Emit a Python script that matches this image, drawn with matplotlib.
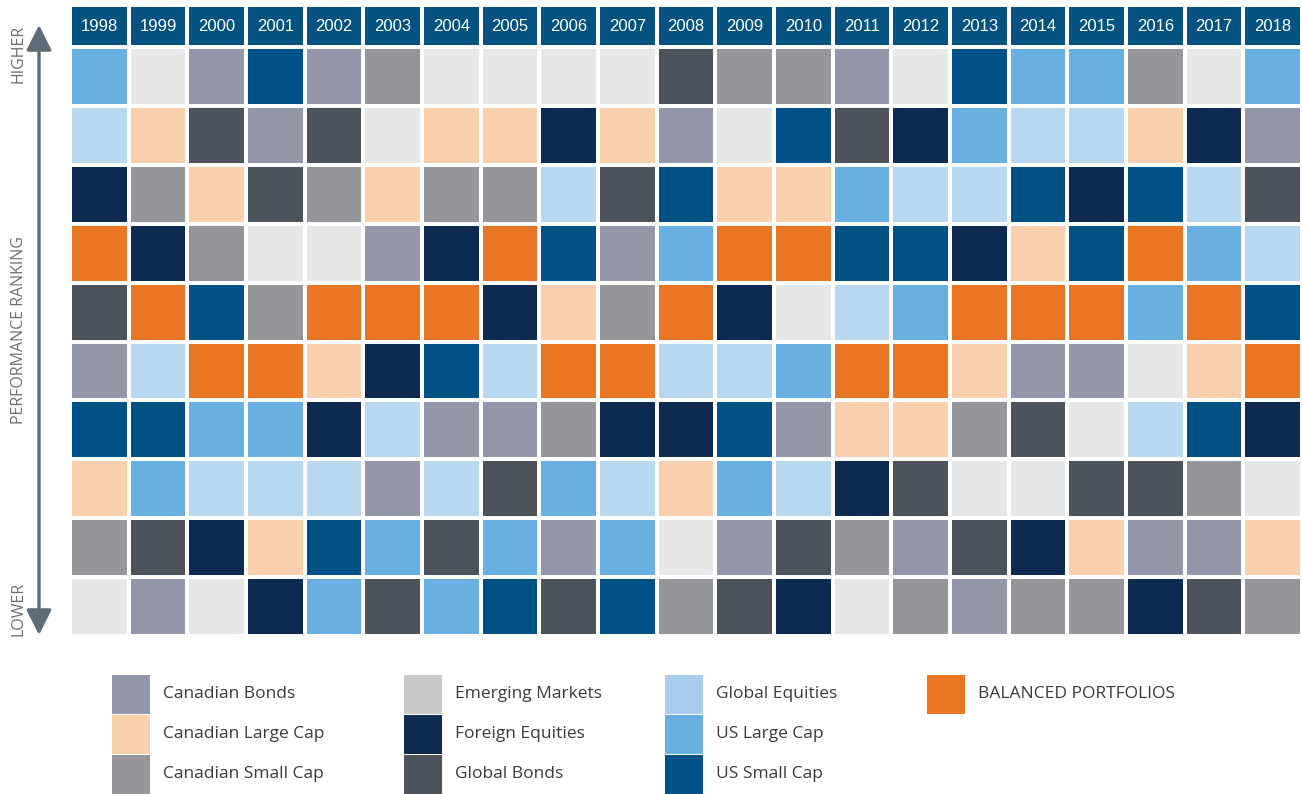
import numpy as np
import matplotlib.pyplot as plt
from matplotlib.colors import ListedColormap
from matplotlib.patches import Rectangle, FancyArrowPatch

years = [str(y) for y in range(1998, 2019)]

# asset class codes -> names
codes = ['CB', 'CL', 'CS', 'EM', 'FE', 'GB', 'GE', 'UL', 'US', 'BP']
names = ['Canadian Bonds', 'Canadian Large Cap', 'Canadian Small Cap',
         'Emerging Markets', 'Foreign Equities', 'Global Bonds',
         'Global Equities', 'US Large Cap', 'US Small Cap', 'BALANCED PORTFOLIOS']
cell_colors = ['#9497AA', '#F8D0AE', '#959699', '#E6E7E9', '#0E2A50',
               '#4D535B', '#B9D7EF', '#68B0E1', '#005286', '#E87625']
legend_colors = ['#9497AA', '#F8D0AE', '#959699', '#C8C9CB', '#0E2A50',
                 '#4D535B', '#A9CDEE', '#68B0E1', '#005286', '#E87625']

# ranking, best (top) to worst (bottom), one row per rank, one entry per year
rank1 = ['UL', 'EM', 'CB', 'US', 'CB', 'CS', 'EM', 'EM', 'EM', 'EM', 'GB', 'CS', 'CS', 'CB', 'EM', 'US', 'UL', 'UL', 'CS', 'EM', 'UL']
rank2 = ['GE', 'CL', 'GB', 'CB', 'GB', 'EM', 'CL', 'CL', 'FE', 'CL', 'CB', 'EM', 'US', 'GB', 'FE', 'UL', 'GE', 'GE', 'CL', 'FE', 'CB']
rank3 = ['FE', 'CS', 'CL', 'GB', 'CS', 'CL', 'CS', 'CS', 'GE', 'GB', 'US', 'CL', 'CL', 'UL', 'GE', 'GE', 'US', 'FE', 'US', 'GE', 'GB']
rank4 = ['BP', 'FE', 'CS', 'EM', 'EM', 'CB', 'FE', 'BP', 'US', 'CB', 'UL', 'BP', 'BP', 'US', 'US', 'FE', 'CL', 'US', 'BP', 'UL', 'GE']
rank5 = ['GB', 'BP', 'US', 'CS', 'BP', 'BP', 'BP', 'FE', 'CL', 'CS', 'BP', 'FE', 'EM', 'GE', 'UL', 'BP', 'BP', 'BP', 'UL', 'BP', 'US']
rank6 = ['CB', 'GE', 'BP', 'BP', 'CL', 'FE', 'US', 'GE', 'BP', 'BP', 'GE', 'GE', 'UL', 'BP', 'BP', 'CL', 'CB', 'CB', 'EM', 'CL', 'BP']
rank7 = ['US', 'US', 'UL', 'UL', 'FE', 'GE', 'CB', 'CB', 'CS', 'FE', 'FE', 'US', 'CB', 'CL', 'CL', 'CS', 'GB', 'EM', 'GE', 'US', 'FE']
rank8 = ['CL', 'UL', 'GE', 'GE', 'GE', 'CB', 'GE', 'GB', 'UL', 'GE', 'CL', 'UL', 'GE', 'FE', 'GB', 'EM', 'EM', 'GB', 'GB', 'CS', 'EM']
rank9 = ['CS', 'GB', 'FE', 'CL', 'US', 'UL', 'GB', 'UL', 'CB', 'UL', 'EM', 'CB', 'GB', 'CS', 'CB', 'GB', 'FE', 'CL', 'CB', 'CB', 'CL']
rank10 = ['EM', 'CB', 'EM', 'FE', 'UL', 'GB', 'UL', 'US', 'GB', 'US', 'CS', 'GB', 'FE', 'EM', 'CS', 'CB', 'CS', 'CS', 'FE', 'GB', 'CS']
ranks = [rank1, rank2, rank3, rank4, rank5, rank6, rank7, rank8, rank9, rank10]

W, H = 1302, 794
fig = plt.figure(figsize=(W / 100, H / 100), dpi=100)


def px_axes(x0, y0, x1, y1):
    # axes from pixel box (top-left origin)
    return fig.add_axes([x0 / W, 1 - y1 / H, (x1 - x0) / W, (y1 - y0) / H])


# main grid
grid = np.array([[codes.index(c) for c in row] for row in ranks])
ax = px_axes(70, 47, 1302, 636)
ax.pcolormesh(grid, cmap=ListedColormap(cell_colors), vmin=-0.5, vmax=len(codes) - 0.5,
              edgecolors='white', linewidth=1.6)
ax.set_xlim(0, len(years))
ax.set_ylim(len(ranks), 0)
ax.axis('off')

# year header
axh = px_axes(70, 5, 1302, 47)
axh.pcolormesh(np.zeros((1, len(years))), cmap=ListedColormap(['#03527F']),
               edgecolors='white', linewidth=1.6)
for i, yr in enumerate(years):
    axh.text(i + 0.5, 0.52, yr, ha='center', va='center', color='white',
             fontsize=12, family=['Liberation Sans Narrow', 'Liberation Sans'])
axh.set_xlim(0, len(years))
axh.set_ylim(1, 0)
axh.axis('off')

# overlay for side labels and legend, pixel coords
ov = px_axes(0, 0, W, H)
ov.set_xlim(0, W)
ov.set_ylim(H, 0)
ov.axis('off')
ov.patch.set_alpha(0)

ov.add_patch(FancyArrowPatch((39, 25), (39, 635), arrowstyle='<|-|>,head_length=1.1,head_width=0.55',
                             mutation_scale=14, color='#5F6B76', lw=2.4, shrinkA=0, shrinkB=0))
side = dict(rotation=90, ha='center', va='center', color='#6D6E71', fontsize=11.5, family='Open Sans')
ov.text(19, 54, 'HIGHER', **side)
ov.text(19, 330, 'PERFORMANCE RANKING', **side)
ov.text(19, 609, 'LOWER', **side)

# legend, three per column
leg_x = [112, 404, 665, 927]
leg_y = [675, 715, 755]
for k, (name, col) in enumerate(zip(names, legend_colors)):
    x = leg_x[k // 3]
    y = leg_y[k % 3]
    ov.add_patch(Rectangle((x, y), 38, 38.5, facecolor=col, edgecolor='none'))
    ov.text(x + 51, y + 19, name, ha='left', va='center', color='#3A3A3A',
            fontsize=12.5, family='Open Sans')

fig.savefig('out.png', dpi=100)
